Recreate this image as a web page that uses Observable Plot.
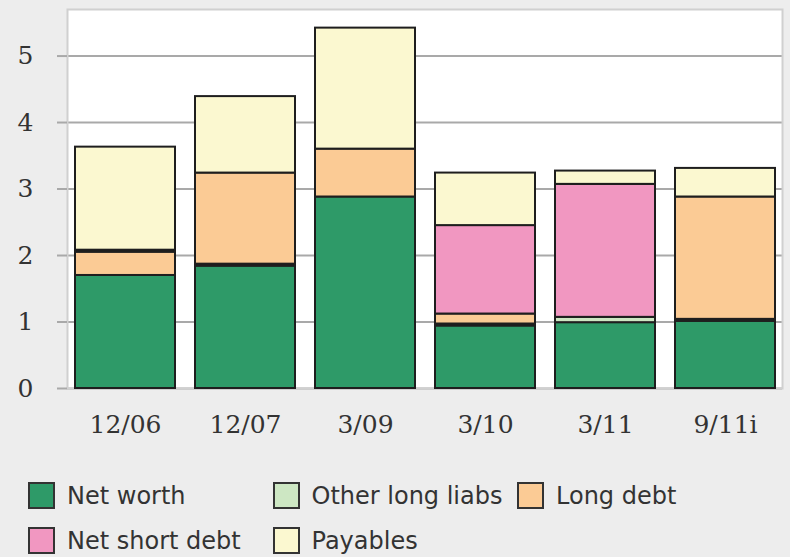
<!DOCTYPE html>
<html><head><meta charset="utf-8">
<script src="https://cdn.jsdelivr.net/npm/d3@7"></script>
<script src="https://cdn.jsdelivr.net/npm/@observablehq/plot@0.6"></script>
<style>
body{margin:0;background:#ededed;width:790px;height:557px;overflow:hidden}
#chart svg{display:block}
#legend{display:flex;flex-wrap:wrap;padding:32px 0 0 28px;row-gap:18px;font-family:"DejaVu Sans";font-size:24px;color:#333}
.item{width:244.5px;display:flex;align-items:center;height:27px;white-space:nowrap}
.sw{width:23px;height:23px;border:2px solid #333;margin-right:12px;flex:none}
</style></head><body><div id="chart"></div><div id="legend"></div>
<script>
const dates = ["12/06", "12/07", "3/09", "3/10", "3/11", "9/11i"];
const series = ["Net worth", "Other long liabs", "Long debt", "Net short debt", "Payables"];
const colors = ["#2e9a68", "#cde7c3", "#fbcb95", "#f197c1", "#fbf8d0"];
const netWorth  = [1.70, 1.84, 2.88, 0.94, 0.99, 1.01];
const otherLong = [0.00, 0.03, 0.00, 0.03, 0.08, 0.03];
const longDebt  = [0.35, 1.37, 0.72, 0.15, 0.00, 1.84];
const netShort  = [0.03, 0.00, 0.00, 1.33, 2.00, 0.00];
const payables  = [1.55, 1.15, 1.82, 0.79, 0.20, 0.43];
const yTicks = [0, 1, 2, 3, 4, 5];

const values = [netWorth, otherLong, longDebt, netShort, payables];
const data = [];
series.forEach((s, i) => dates.forEach((d, j) => {
  if (values[i][j] > 0) data.push({date: d, series: s, value: values[i][j]});
}));

const chart = Plot.plot({
  width: 790, height: 450,
  marginLeft: 67, marginRight: 8, marginTop: 9, marginBottom: 62,
  style: {fontFamily: "DejaVu Serif", fontSize: "25px", color: "#333", background: "transparent", overflow: "visible"},
  x: {domain: dates, paddingInner: 0.17, paddingOuter: 0.056, label: null},
  y: {domain: [0, 5.7], label: null},
  color: {domain: series, range: colors},
  marks: [
    Plot.frame({fill: "white", stroke: "none"}),
    Plot.ruleY(yTicks, {stroke: "#a9a9a9", strokeWidth: 2}),
    Plot.frame({stroke: "#d0d0d0", strokeWidth: 2}),
    Plot.barY(data, {x: "date", y: "value", fill: "series", stroke: "#1e1e1e", strokeWidth: 2}),
    Plot.axisY(yTicks, {tickSize: 10, tickPadding: 24, tickFormat: "d", stroke: "#a9a9a9", strokeWidth: 2, fill: "#333", label: null}),
    Plot.axisX({tickSize: 0, tickPadding: 27, fill: "#333", label: null})
  ]
});
document.getElementById("chart").appendChild(chart);

const legend = document.getElementById("legend");
series.forEach((s, i) => {
  const it = document.createElement("div");
  it.className = "item";
  const sw = document.createElement("span");
  sw.className = "sw";
  sw.style.background = colors[i];
  const t = document.createElement("span");
  t.textContent = s;
  it.appendChild(sw); it.appendChild(t);
  legend.appendChild(it);
});
</script>
</body></html>
